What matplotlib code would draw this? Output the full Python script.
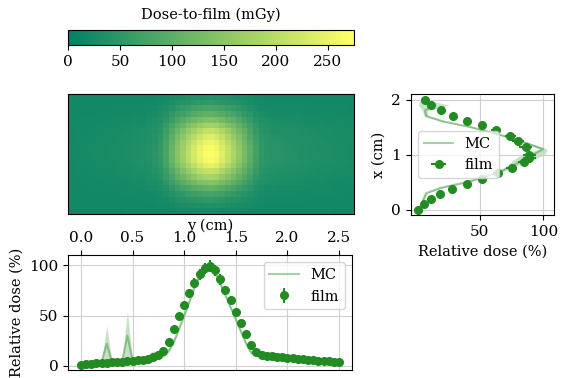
import matplotlib
matplotlib.use('Agg')
import matplotlib.pyplot as plt
import numpy as np

plt.rcParams['font.family'] = 'DejaVu Serif'
plt.rcParams['font.size'] = 10.5
plt.rcParams['xtick.labelsize'] = 11
plt.rcParams['ytick.labelsize'] = 11

# profile along y (cm), film and MC, relative dose (%)
y_cm = [0.00, 0.05, 0.10, 0.15, 0.20, 0.25, 0.30, 0.35, 0.40, 0.45,
        0.50, 0.55, 0.60, 0.65, 0.70, 0.75, 0.80, 0.85, 0.90, 0.95,
        1.00, 1.05, 1.10, 1.15, 1.20, 1.25, 1.30, 1.35, 1.40, 1.45,
        1.50, 1.55, 1.60, 1.65, 1.70, 1.75, 1.80, 1.85, 1.90, 1.95,
        2.00, 2.05, 2.10, 2.15, 2.20, 2.25, 2.30, 2.35, 2.40, 2.45, 2.50]
film_y = [1.0, 1.5, 2.0, 2.3, 2.7, 3.0, 3.3, 3.7, 4.0, 4.5,
          5.0, 5.5, 6.2, 7.0, 8.5, 11, 15, 24, 37, 50,
          61, 72, 82, 91, 97, 99, 95, 86, 75, 65,
          54, 43, 32, 21, 14, 11, 10, 9.5, 9.0, 8.5,
          8.0, 7.5, 7.0, 6.5, 6.0, 5.6, 5.2, 4.8, 4.4, 4.0, 3.7]
mc_y = [2.0, 2.5, 3.0, 3.3, 3.6, 22, 4.0, 4.2, 5.0, 30,
        5.8, 6.0, 6.5, 8.0, 12, 8.0, 10, 15, 24, 37,
        50, 64, 78, 90, 98, 99, 93, 82, 70, 58,
        46, 34, 22, 13, 10, 9.0, 8.5, 8.0, 7.5, 7.0,
        6.5, 6.0, 5.5, 5.0, 4.6, 4.2, 3.9, 3.6, 3.3, 3.0, 2.8]
mc_y_err = [0.5, 0.5, 0.6, 0.6, 0.7, 18, 0.8, 0.8, 1.0, 24,
            1.0, 1.0, 1.2, 1.5, 3.0, 1.5, 1.5, 2.0, 2.0, 2.0,
            2.0, 2.0, 2.0, 2.0, 2.0, 2.0, 2.0, 2.0, 2.0, 2.0,
            2.0, 2.0, 1.5, 1.5, 1.0, 1.0, 1.0, 0.8, 0.8, 0.8,
            0.8, 0.7, 0.7, 0.7, 0.6, 0.6, 0.6, 0.5, 0.5, 0.5, 0.5]

# profile along x (cm)
x_film = [0.00, 0.10, 0.20, 0.29, 0.38, 0.47, 0.56, 0.67, 0.76, 0.86, 0.94,
          1.00, 1.14, 1.24, 1.33, 1.44, 1.53, 1.62, 1.71, 1.81, 1.91, 2.00]
film_x = [1.8, 6.1, 12, 19, 28, 40, 52, 64, 75, 85, 89,
          89, 86, 80, 74, 63, 52, 40, 29, 20, 12, 7.3]
x_mc = [0.0, 0.1, 0.2, 0.3, 0.4, 0.5, 0.6, 0.7, 0.8, 0.9, 1.0,
        1.1, 1.2, 1.3, 1.4, 1.5, 1.6, 1.7, 1.8, 1.9, 2.0]
mc_x = [1.5, 4.5, 6.0, 8.0, 20, 40, 54, 67, 76, 84, 92,
        100, 88, 75, 60, 43, 22, 8.0, 7.0, 14, 5.0]
mc_x_err = [0.5, 1.0, 1.0, 1.0, 2.0, 2.0, 2.0, 2.0, 4.0, 8.0, 9.0,
            3.0, 2.0, 2.0, 2.0, 2.0, 2.0, 1.5, 2.0, 12, 2.0]

rel_err = 0.06
peak_dose = 275.0
bg_dose = 18.0

color = 'forestgreen'

fig = plt.figure(figsize=(5.69, 3.78), dpi=100)
ax_cb = fig.add_axes([0.1195, 0.881, 0.5026, 0.040])
ax_map = fig.add_axes([0.1195, 0.434, 0.5026, 0.317])
ax_y = fig.add_axes([0.1195, 0.021, 0.499, 0.304])
ax_x = fig.add_axes([0.722, 0.431, 0.251, 0.320])

# dose map built from the two film profiles
fy = np.array(film_y) / max(film_y)
fx = np.interp(np.linspace(0, 2, 21), x_film, film_x) / max(film_x)
dose_map = bg_dose + (peak_dose - bg_dose) * np.outer(fx, fy)
im = ax_map.imshow(dose_map, cmap='summer', vmin=0, vmax=peak_dose,
                   aspect='auto', origin='lower')
ax_map.set_xticks([])
ax_map.set_yticks([])

cb = fig.colorbar(im, cax=ax_cb, orientation='horizontal')
cb.set_label('Dose-to-film (mGy)', labelpad=8)
ax_cb.xaxis.set_label_position('top')
cb.set_ticks([0, 50, 100, 150, 200, 250])

# y profile
y = np.array(y_cm)
mc = np.array(mc_y)
err = np.array(mc_y_err)
ax_y.plot(y, mc, color=color, alpha=0.4, label='MC')
ax_y.fill_between(y, mc - err, mc + err, color=color, alpha=0.25, lw=0)
ax_y.errorbar(y, film_y, yerr=rel_err * np.array(film_y), fmt='o', color=color,
              ms=5.5, label='film')
ax_y.xaxis.tick_top()
ax_y.xaxis.set_label_position('top')
ax_y.set_xlabel('y (cm)', labelpad=1)
ax_y.set_ylabel('Relative dose (%)')
ax_y.set_xticks([0.0, 0.5, 1.0, 1.5, 2.0, 2.5])
ax_y.grid(True, color='#d0d0d0')
ax_y.legend(loc='upper right')

# x profile
xm = np.array(mc_x)
xe = np.array(mc_x_err)
ax_x.plot(xm, x_mc, color=color, alpha=0.4, label='MC')
ax_x.fill_betweenx(x_mc, xm - xe, xm + xe, color=color, alpha=0.25, lw=0)
ax_x.errorbar(film_x, x_film, xerr=rel_err * np.array(film_x), fmt='o', color=color,
              ms=5.5, label='film')
ax_x.set_xlabel('Relative dose (%)')
ax_x.set_ylabel('x (cm)')
ax_x.set_xticks([50, 100])
ax_x.set_yticks([0, 1, 2])
ax_x.grid(True, color='#d0d0d0')
ax_x.legend(loc='center left')

fig.savefig('out.png', dpi=100)
